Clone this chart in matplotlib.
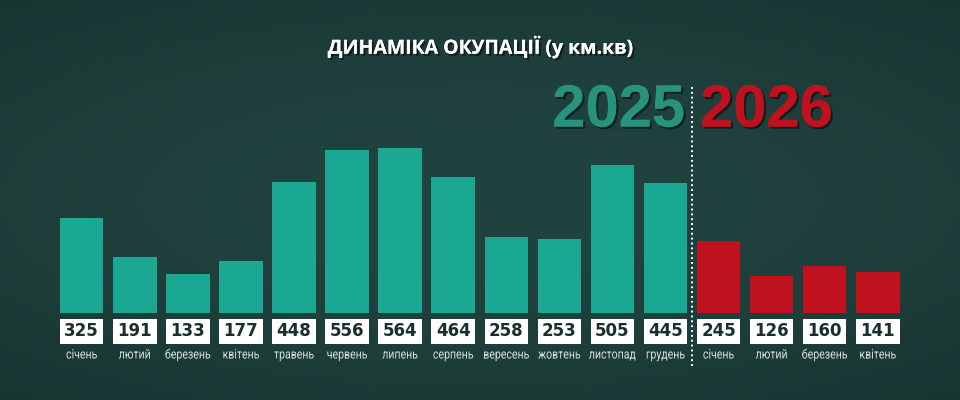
import numpy as np
import matplotlib.pyplot as plt
import matplotlib.patheffects as pe
from matplotlib.transforms import Affine2D

months_2025 = ['січень', 'лютий', 'березень', 'квітень', 'травень', 'червень',
               'липень', 'серпень', 'вересень', 'жовтень', 'листопад', 'грудень']
values_2025 = [325, 191, 133, 177, 448, 556, 564, 464, 258, 253, 505, 445]
months_2026 = ['січень', 'лютий', 'березень', 'квітень']
values_2026 = [245, 126, 160, 141]

title = 'ДИНАМІКА ОКУПАЦІЇ (у км.кв)'
teal = '#1ba892'
red = '#c0111f'
year_teal = '#27937f'
dark = '#18302d'

months = months_2025 + months_2026
values = values_2025 + values_2026
colors = [teal] * len(values_2025) + [red] * len(values_2026)
x = np.arange(len(values))
bw = 0.82


class Squeeze(pe.AbstractPathEffect):
    # narrows glyphs horizontally around a fixed display x (keeps text as text)
    def __init__(self, sx, cx):
        super().__init__()
        self.sx, self.cx = sx, cx

    def draw_path(self, renderer, gc, tpath, affine, rgbFace=None):
        a = affine + Affine2D().translate(-self.cx, 0).scale(self.sx, 1).translate(self.cx, 0)
        renderer.draw_path(gc, tpath, a, rgbFace)


fig = plt.figure(figsize=(9.6, 4), dpi=100)

# chalkboard background
bg = fig.add_axes([0, 0, 1, 1])
yy, xx = np.mgrid[-1:1:200j, -1:1:480j]
r = np.sqrt((xx / 1.1) ** 2 + (yy / 0.9) ** 2)
shade = np.clip(1 - 0.4 * r ** 2, 0, 1)
c0 = np.array([0x15, 0x31, 0x2e]) / 255
c1 = np.array([0x21, 0x43, 0x3f]) / 255
img = c0 + (c1 - c0) * shade[..., None]
bg.imshow(img, aspect='auto', extent=[0, 1, 0, 1])
bg.axis('off')

ax = fig.add_axes([0, 0, 1, 1])
ax.patch.set_alpha(0)
ax.set_xlim(-1.540, 16.549)
ax.set_ylim(-295, 1066)
ax.axis('off')

ax.bar(x, values, width=bw, color=colors, align='center')

for xi, v, m in zip(x, values, months):
    ax.add_patch(plt.Rectangle((xi - bw / 2, -104), bw, 85,
                               facecolor='white', edgecolor='none'))
    ax.text(xi, -61, str(v), ha='center', va='center', fontsize=12,
            fontweight='bold', color=dark, family='DejaVu Sans')
    cx = ax.transData.transform((xi, 0))[0]
    ax.text(xi, -142, m, ha='center', va='center', fontsize=9.5,
            color='#d6dedc', family='Roboto', path_effects=[Squeeze(0.8, cx)])

ax.plot([11.5, 11.5], [-180, 770], color='white', lw=1.4, ls=(0, (1, 1.5)))

shadow = [pe.withSimplePatchShadow(offset=(1.5, -1.5), shadow_rgbFace='black', alpha=0.5), pe.Normal()]
ax.text(11.37, 688, '2025', ha='right', va='center', fontsize=43, fontweight='bold',
        color=year_teal, family='Liberation Sans', path_effects=shadow)
ax.text(11.65, 688, '2026', ha='left', va='center', fontsize=43, fontweight='bold',
        color=red, family='Liberation Sans', path_effects=shadow)

fig.text(0.501, 0.882, title, ha='center', va='center', fontsize=14, fontweight='bold',
         color='white', family=['Open Sans', 'DejaVu Sans'], path_effects=shadow)

fig.savefig('out.png', dpi=100)
